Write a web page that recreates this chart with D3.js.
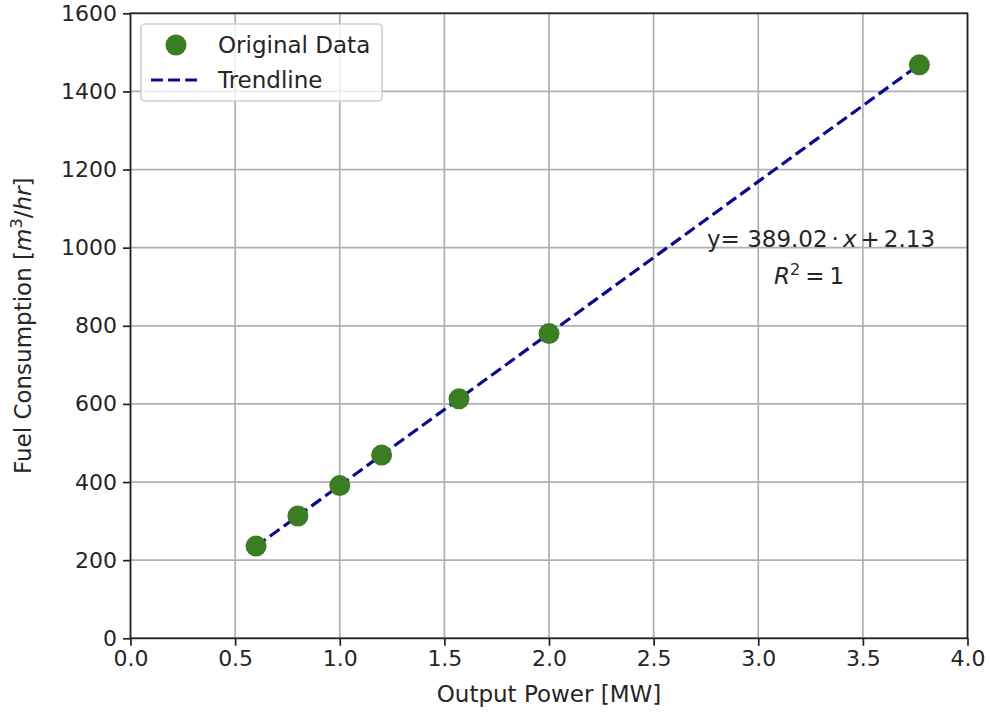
<!DOCTYPE html>
<html>
<head>
<meta charset="utf-8">
<script src="https://cdn.jsdelivr.net/npm/d3@7"></script>
<style>
  html, body { margin: 0; padding: 0; background: #fff; }
  svg { display: block; font-family: "DejaVu Sans", sans-serif; }
</style>
</head>
<body>
<svg id="chart" width="990" height="715"></svg>
<script>
// Generator output vs fuel use
const outputPower = [0.6, 0.8, 1.0, 1.2, 1.57, 2.0, 3.77];          // MW
const fuelUse     = [236, 313, 391, 469, 613, 780, 1468];            // m^3/hr
const xTicks = [0, 0.5, 1.0, 1.5, 2.0, 2.5, 3.0, 3.5, 4.0];
const yTicks = [0, 200, 400, 600, 800, 1000, 1200, 1400, 1600];
const slope = 389.02, intercept = 2.13, rSquared = 1;

const svg = d3.select("#chart");
const m = { left: 130.5, right: 967.5, top: 13.3, bottom: 638.3 };
const fs = 23;

const x = d3.scaleLinear().domain([0, 4]).range([m.left, m.right]);
const y = d3.scaleLinear().domain([0, 1600]).range([m.bottom, m.top]);

// grid
const grid = svg.append("g").attr("stroke", "#b0b0b0").attr("stroke-width", 1.7);
grid.selectAll(".gx").data(xTicks).join("line")
  .attr("x1", d => x(d)).attr("x2", d => x(d)).attr("y1", m.top).attr("y2", m.bottom);
grid.selectAll(".gy").data(yTicks).join("line")
  .attr("y1", d => y(d)).attr("y2", d => y(d)).attr("x1", m.left).attr("x2", m.right);

// trendline across the data range
const xs = d3.extent(outputPower);
const trend = xs.map(v => [v, slope * v + intercept]);
svg.append("path")
  .datum(trend)
  .attr("d", d3.line().x(d => x(d[0])).y(d => y(d[1])))
  .attr("fill", "none").attr("stroke", "#0a0a8f").attr("stroke-width", 3.2)
  .attr("stroke-dasharray", "11.9 5.2");

// data points
svg.append("g").selectAll("circle").data(outputPower).join("circle")
  .attr("cx", d => x(d)).attr("cy", (d, i) => y(fuelUse[i]))
  .attr("r", 10.5).attr("fill", "#3a7d23");

// axes
const xAxis = d3.axisBottom(x).tickValues(xTicks).tickFormat(d3.format(".1f")).tickSize(7.5).tickPadding(5);
const yAxis = d3.axisLeft(y).tickValues(yTicks).tickFormat(d3.format("d")).tickSize(7.5).tickPadding(6);
const gx = svg.append("g").attr("transform", `translate(0,${m.bottom})`).call(xAxis);
const gy = svg.append("g").attr("transform", `translate(${m.left},0)`).call(yAxis);
[gx, gy].forEach(g => {
  g.select(".domain").remove();
  g.selectAll(".tick line").attr("stroke", "#222").attr("stroke-width", 1.7);
  g.selectAll(".tick text").attr("font-size", fs - 1).attr("fill", "#262626")
    .attr("font-family", "DejaVu Sans");
});

// frame
svg.append("rect")
  .attr("x", m.left).attr("y", m.top)
  .attr("width", m.right - m.left).attr("height", m.bottom - m.top)
  .attr("fill", "none").attr("stroke", "#222").attr("stroke-width", 1.7);

// axis labels
svg.append("text")
  .attr("x", (m.left + m.right) / 2).attr("y", 702)
  .attr("text-anchor", "middle").attr("font-size", fs).attr("fill", "#262626")
  .text("Output Power [MW]");

const yl = svg.append("text")
  .attr("transform", `translate(31,${(m.top + m.bottom) / 2}) rotate(-90)`)
  .attr("text-anchor", "middle").attr("font-size", fs).attr("fill", "#262626");
yl.append("tspan").text("Fuel Consumption [");
yl.append("tspan").attr("font-style", "italic").text("m");
yl.append("tspan").attr("font-size", fs * 0.7).attr("dy", -9).text("3");
yl.append("tspan").attr("dy", 9).text("/");
yl.append("tspan").attr("font-style", "italic").text("hr");
yl.append("tspan").text("]");

// fit annotation
const eq = svg.append("text")
  .attr("x", 821).attr("y", 247).attr("text-anchor", "middle")
  .attr("font-size", fs).attr("fill", "#262626");
eq.append("tspan").text("y= " + slope.toFixed(2));
eq.append("tspan").attr("dx", 4).text("·");
eq.append("tspan").attr("dx", 4).attr("font-style", "italic").text("x");
eq.append("tspan").attr("dx", 4).text("+");
eq.append("tspan").attr("dx", 4).text(intercept.toFixed(2));

const r2 = svg.append("text")
  .attr("x", 809).attr("y", 284).attr("text-anchor", "middle")
  .attr("font-size", fs).attr("fill", "#262626");
r2.append("tspan").attr("font-style", "italic").text("R");
r2.append("tspan").attr("font-size", fs * 0.7).attr("dy", -9).text("2");
r2.append("tspan").attr("dy", 9).attr("dx", 5).text("=");
r2.append("tspan").attr("dx", 5).text(String(rSquared));

// legend
const lg = svg.append("g");
lg.append("rect")
  .attr("x", 141).attr("y", 24).attr("width", 241).attr("height", 77).attr("rx", 4)
  .attr("fill", "rgba(255,255,255,0.8)").attr("stroke", "#d0d0d0").attr("stroke-width", 1.7);
lg.append("circle").attr("cx", 176).attr("cy", 45).attr("r", 10.5).attr("fill", "#3a7d23");
lg.append("line").attr("x1", 151).attr("x2", 200).attr("y1", 80).attr("y2", 80)
  .attr("stroke", "#0a0a8f").attr("stroke-width", 3.2).attr("stroke-dasharray", "11.9 5.2");
lg.append("text").attr("x", 218).attr("y", 53).attr("font-size", fs).attr("fill", "#262626").text("Original Data");
lg.append("text").attr("x", 218).attr("y", 88).attr("font-size", fs).attr("fill", "#262626").text("Trendline");
</script>
</body>
</html>
